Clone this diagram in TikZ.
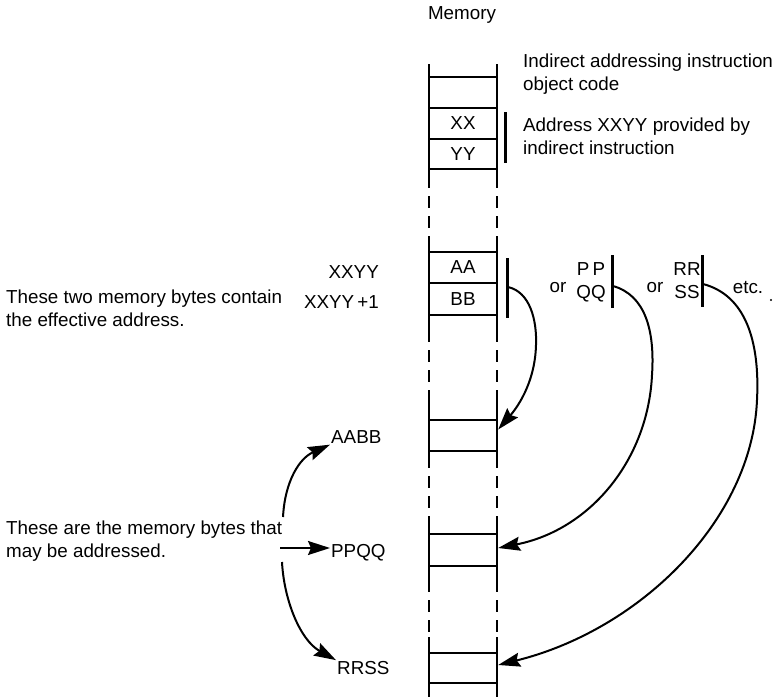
\documentclass[tikz,border=0pt]{standalone}
\usepackage{fontspec}
\setmainfont{Liberation Sans}
\usetikzlibrary{arrows.meta}

\begin{document}
\begin{tikzpicture}[x=1pt, y=-1pt, line width=2.4pt,
    cell/.style={draw, minimum width=68pt, inner sep=0pt},
    lbl/.style={font=\fontsize{18.8}{23}\selectfont, inner sep=0pt},
    brace/.style={line width=3pt},
    ptr/.style={-{Stealth[length=22pt, width=14pt, inset=3pt]}, line width=2pt},
    gap/.style={dash pattern=on 12pt off 8pt}]
    \useasboundingbox (0,0) rectangle (782,697);

    % Memory column (solid where cells are shown, dashed in between)
    \foreach \a/\b in {64/176, 242/330, 395/456, 517/580, 637/697}
        { \draw (429,\a) -- (429,\b); \draw (497,\a) -- (497,\b); }
    \foreach \a/\b in {176/242, 330/395, 456/517, 580/637}
        { \draw[gap] (429,\a) -- (429,\b); \draw[gap] (497,\a) -- (497,\b); }
    \node[lbl] (mem) at (462,15) {Memory};

    % Instruction and its address bytes
    \node[cell, minimum height=31pt] (objcode) at (463,92.5) {};
    \node[cell, lbl, minimum height=31pt] (xx) at (463,123.5) {XX};
    \node[cell, lbl, minimum height=30pt] (yy) at (463,154) {YY};
    \draw[brace] (505,112) -- (505,163);
    \node[lbl, anchor=west, align=left] (objtxt) at (522,74) {Indirect addressing instruction\\object code};
    \node[lbl, anchor=west, align=left] (addrtxt) at (522,136) {Address XXYY provided by\\indirect instruction};

    % Effective address bytes
    \node[cell, lbl, minimum height=31pt] (aa) at (463,267.5) {AA};
    \node[cell, lbl, minimum height=32pt] (bb) at (463,299) {BB};
    \node[lbl, anchor=east] (xxyy) at (380,272) {XXYY};
    \node[lbl, anchor=east] (xxyy1) at (380,302) {XXYY\,+1};
    \node[lbl, anchor=west, align=left] (efftxt) at (5,308) {These two memory bytes contain\\the effective address.};

    % Brackets: AA BB, or PP QQ, or RR SS
    \draw[brace] (507,258) -- (507,318);
    \coordinate (brab) at (508,287);
    \node[lbl] (or1) at (558,288) {or};
    \node[lbl, align=center] (pq) at (591,282) {P\,P\\QQ};
    \draw[brace] (612,255) -- (612,308);
    \coordinate (brpq) at (613,286);
    \node[lbl] (or2) at (655,288) {or};
    \node[lbl, align=center] (rs) at (687,281) {RR\\SS};
    \draw[brace] (702,255) -- (702,307);
    \coordinate (brrs) at (703,284);
    \node[lbl] (etc) at (748,288) {etc.};
    \fill (771,300) circle (1.2pt);

    % Addressed bytes
    \node[cell, minimum height=31pt] (box1) at (463,435.5) {};
    \node[cell, minimum height=32pt] (box2) at (463,550) {};
    \node[cell, minimum height=30pt] (box3) at (463,668) {};

    % Pointers to the addressed bytes
    \draw[ptr] (brab) .. controls (530,292) and (537,320) .. (536,345)
        .. controls (535,385) and (515,410) .. ([yshift=6pt]box1.east);
    \draw[ptr] (brpq) .. controls (645,295) and (655,330) .. (652,375)
        .. controls (648,460) and (590,530) .. ([yshift=2pt]box2.east);
    \draw[ptr] (brrs) .. controls (745,295) and (760,340) .. (757,400)
        .. controls (752,520) and (640,630) .. ([yshift=3pt]box3.east);

    % Left side labels
    \node[lbl, anchor=west, align=left] (bytetxt) at (5,541) {These are the memory bytes that\\may be addressed.};
    \node[lbl, anchor=west] (aabb) at (330,437) {AABB};
    \node[lbl, anchor=west] (ppqq) at (330,553) {PPQQ};
    \node[lbl, anchor=west] (rrss) at (336,668) {RRSS};
    \coordinate (up0) at (283,517);
    \coordinate (mid0) at (280,548);
    \coordinate (dn0) at (282,562);
    \draw[ptr] (up0) .. controls (285,480) and (300,458) .. (aabb.south west);
    \draw[ptr] (mid0) -- (mid0 -| ppqq.west);
    \draw[ptr] (dn0) .. controls (284,600) and (300,640) .. (rrss.north west);
\end{tikzpicture}
\end{document}
